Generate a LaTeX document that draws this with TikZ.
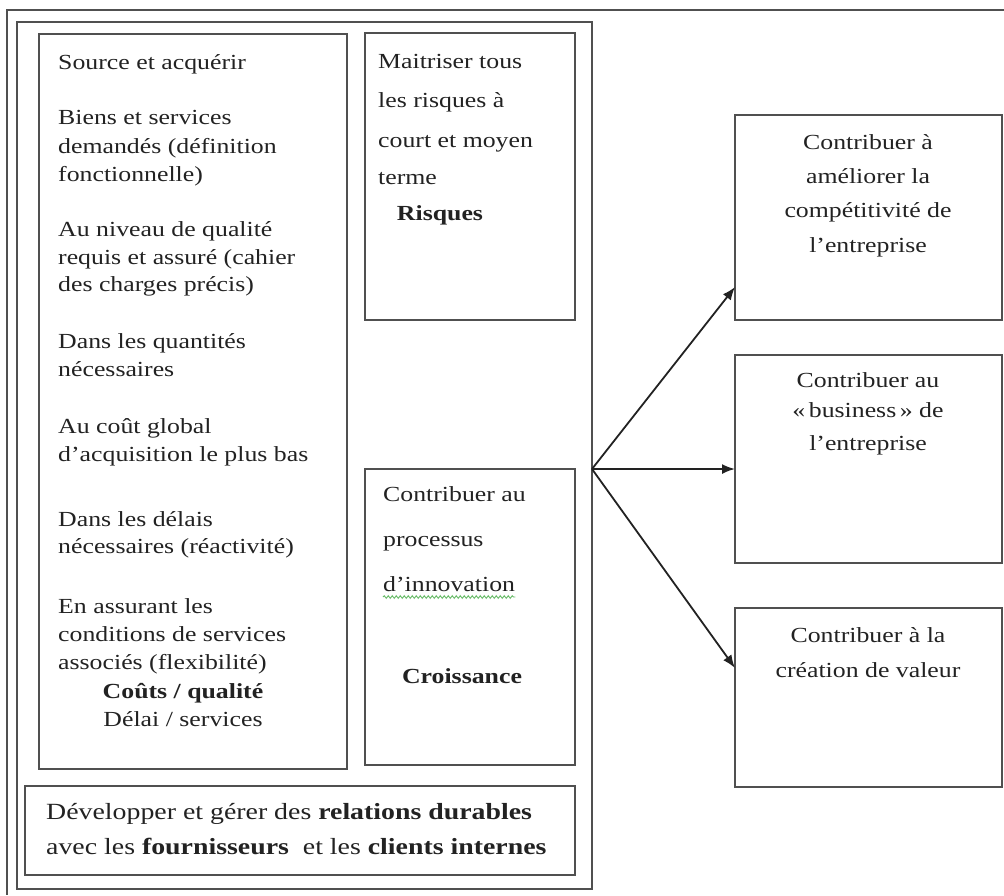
\documentclass[tikz,border=0pt]{standalone}
\usepackage{fontspec}
\setmainfont{Liberation Serif}[FakeStretch=1.2]
\usetikzlibrary{arrows.meta,calc,decorations.pathmorphing}

\definecolor{rule}{HTML}{505050}
\definecolor{ink}{HTML}{222222}

\tikzset{
  box/.style={draw=rule, line width=2.6pt, inner sep=0pt, outer sep=0pt,
              anchor=north west},
  txt/.style={inner sep=0pt, anchor=base west, text=ink,
              font=\fontsize{21.5}{26}\selectfont},
  ctxt/.style={txt, anchor=base},
  btxt/.style={inner sep=0pt, anchor=base west, text=ink,
               font=\fontsize{23.2}{30}\selectfont},
  link/.style={draw=ink, line width=1.8pt,
               -{Latex[length=13pt,width=10pt]}},
}

\begin{document}
\begin{tikzpicture}[x=1pt,y=-1pt]
\useasboundingbox (0,0) rectangle (1004,895);

% page rules along the top and the left
\coordinate (pgtl) at (7,10);
\coordinate (pgtr) at (1004,10);
\coordinate (pgbl) at (7,895);
\draw[rule, line width=2.6pt] (pgtr) -- (pgtl) -- (pgbl);

% enclosing frame
\node[box, minimum width=575pt, minimum height=867pt] (frame) at (17,22) {};

% left column: sourcing objectives
\node[box, minimum width=308pt, minimum height=735pt] (src) at (39,34) {};
\node[txt] (s1)  at (58,69)  {Source et acquérir};
\node[txt] (s2)  at (58,124) {Biens et services};
\node[txt] (s3)  at (58,153) {demandés (définition};
\node[txt] (s4)  at (58,181) {fonctionnelle)};
\node[txt] (s5)  at (58,236) {Au niveau de qualité};
\node[txt] (s6)  at (58,264) {requis et assuré (cahier};
\node[txt] (s7)  at (58,291) {des charges précis)};
\node[txt] (s8)  at (58,348) {Dans les quantités};
\node[txt] (s9)  at (58,376) {nécessaires};
\node[txt] (s10) at (58,433) {Au coût global};
\node[txt] (s11) at (58,461) {d’acquisition le plus bas};
\node[txt] (s12) at (58,526) {Dans les délais};
\node[txt] (s13) at (58,553) {nécessaires (réactivité)};
\node[txt] (s14) at (58,613) {En assurant les};
\node[txt] (s15) at (58,641) {conditions de services};
\node[txt] (s16) at (58,669) {associés (flexibilité)};
\node[ctxt] (s17) at (183,698) {\bfseries Coûts / qualité};
\node[ctxt] (s18) at (183,726) {Délai / services};

% risk box
\node[box, minimum width=210pt, minimum height=287pt] (risk) at (365,33) {};
\node[txt] (r1) at (378,68)  {Maitriser tous};
\node[txt] (r2) at (378,107) {les risques à};
\node[txt] (r3) at (378,147) {court et moyen};
\node[txt] (r4) at (378,184) {terme};
\node[ctxt] (r5) at (440,220) {\bfseries Risques};

% growth box
\node[box, minimum width=210pt, minimum height=296pt] (grow) at (365,469) {};
\node[txt] (g1) at (383,501) {Contribuer au};
\node[txt] (g2) at (383,546) {processus};
\node[txt] (g3) at (383,591) {d’innovation};
\node[ctxt] (g4) at (462,683) {\bfseries Croissance};
\draw[green!55!black!60, line width=0.9pt,
      decorate, decoration={snake, amplitude=1.3pt, segment length=4pt}]
  ($(g3.base west)+(0,6)$) -- ($(g3.base east)+(0,6)$);

% relationship box at the bottom
\node[box, minimum width=550pt, minimum height=89pt] (rel) at (25,786) {};
\node[btxt] (b1) at (46,819) {Développer et gérer des \textbf{relations durables}};
\node[btxt] (b2) at (46,854) {avec les \textbf{fournisseurs} \ et les \textbf{clients internes}};

% contribution boxes on the right
\node[box, minimum width=267pt, minimum height=205pt] (comp) at (735,115) {};
\node[ctxt] (c1) at (868,149) {Contribuer à};
\node[ctxt] (c2) at (868,183) {améliorer la};
\node[ctxt] (c3) at (868,217) {compétitivité de};
\node[ctxt] (c4) at (868,252) {l’entreprise};

\node[box, minimum width=267pt, minimum height=208pt] (biz) at (735,355) {};
\node[ctxt] (d1) at (868,387) {Contribuer au};
\node[ctxt] (d2) at (868,417) {«\,business\,» de};
\node[ctxt] (d3) at (868,450) {l’entreprise};

\node[box, minimum width=267pt, minimum height=179pt] (val) at (735,608) {};
\node[ctxt] (v1) at (868,642) {Contribuer à la};
\node[ctxt] (v2) at (868,677) {création de valeur};

% fan of arrows from the frame
\coordinate (hub) at (frame.east |- grow.north);
\draw[link] (hub) -- ($(comp.south west)+(0,-33)$);
\draw[link] (hub) -- (biz.west |- hub);
\draw[link] (hub) -- ($(val.north west)+(0,60)$);
\end{tikzpicture}
\end{document}
